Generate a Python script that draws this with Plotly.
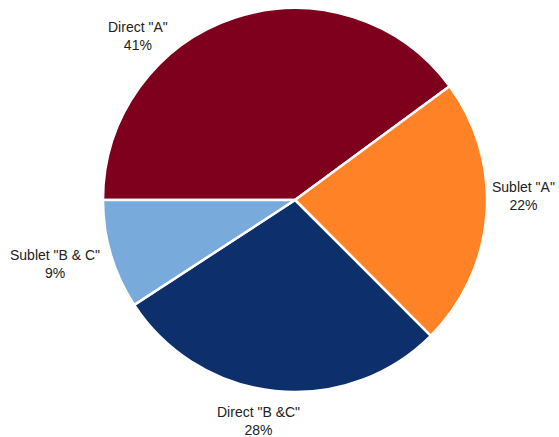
import plotly.graph_objects as go

labels = ['Direct "A"', 'Sublet "A"', 'Direct "B &C"', 'Sublet "B & C"']
values = [39.9, 22.6, 28.3, 9.2]          # slice sizes as drawn
pct_text = ["41%", "22%", "28%", "9%"]    # percentages as printed on the chart
colors = ["#7F001C", "#FF8326", "#0D2F6B", "#78AADB"]

# label block centres (pixels in the 559x437 page)
label_pos = [(138, 36), (523, 196), (258, 421), (55, 264)]

W, H = 559, 437
cx, cy, r = 295, 200, 192

fig = go.Figure(go.Pie(
    labels=labels,
    values=values,
    sort=False,
    direction="clockwise",
    rotation=-90,
    marker=dict(colors=colors, line=dict(color="white", width=2.5)),
    textinfo="none",
    hoverinfo="label",
    showlegend=False,
    domain=dict(x=[(cx - r) / W, (cx + r) / W], y=[(H - cy - r) / H, (H - cy + r) / H]),
))

annotations = []
for lab, pct, (px, py) in zip(labels, pct_text, label_pos):
    annotations.append(dict(
        x=px / W, y=1 - py / H, xref="paper", yref="paper",
        text=f"{lab}<br>{pct}",
        showarrow=False, xanchor="center", yanchor="middle",
        font=dict(family="Liberation Sans, Arial, sans-serif", size=14, color="#222"),
    ))

fig.update_layout(
    width=W, height=H,
    margin=dict(l=0, r=0, t=0, b=0),
    paper_bgcolor="white",
    annotations=annotations,
)
fig.write_html(
    "out.html",
    config={"displayModeBar": False},
    post_script="document.body.style.margin='0';document.body.style.overflow='hidden';",
)
